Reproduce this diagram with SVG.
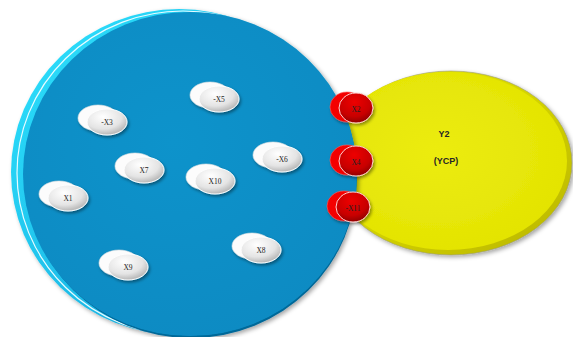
<svg xmlns="http://www.w3.org/2000/svg" xmlns:xlink="http://www.w3.org/1999/xlink" width="573" height="337" viewBox="0 0 573 337">
<style>
.lbl{font-family:"Liberation Serif","DejaVu Serif",serif;font-size:7.5px;fill:#222;text-anchor:middle;dominant-baseline:central}
.big{font-family:"Liberation Sans","DejaVu Sans",sans-serif;font-size:9px;font-weight:bold;fill:#262626;text-anchor:middle;dominant-baseline:central}
</style>
<defs>
<filter id="sh" x="-20%" y="-20%" width="140%" height="140%">
<feDropShadow dx="2" dy="2" stdDeviation="2" flood-color="#000" flood-opacity="0.35"/>
</filter>
<filter id="shs" x="-30%" y="-30%" width="160%" height="160%">
<feDropShadow dx="1.5" dy="2" stdDeviation="1.5" flood-color="#000" flood-opacity="0.4"/>
</filter>
<linearGradient id="rimB" x1="0" y1="0" x2="1" y2="1">
<stop offset="0" stop-color="#2ee4ff"/>
<stop offset="0.6" stop-color="#1cb8e6"/>
<stop offset="1" stop-color="#0a6e9e"/>
</linearGradient>
<radialGradient id="faceB" cx="0.45" cy="0.4" r="0.7">
<stop offset="0" stop-color="#0a93cb"/>
<stop offset="1" stop-color="#078ac2"/>
</radialGradient>
<linearGradient id="rimY" x1="0" y1="0" x2="1" y2="1">
<stop offset="0" stop-color="#eef000"/>
<stop offset="1" stop-color="#b8b400"/>
</linearGradient>
<radialGradient id="faceY" cx="0.45" cy="0.45" r="0.7">
<stop offset="0" stop-color="#ecec10"/>
<stop offset="1" stop-color="#e2e200"/>
</radialGradient>
<radialGradient id="gw" cx="0.4" cy="0.3" r="0.85">
<stop offset="0" stop-color="#ffffff"/>
<stop offset="0.55" stop-color="#e4e4e4"/>
<stop offset="1" stop-color="#9a9a9a"/>
</radialGradient>
<radialGradient id="gr" cx="0.45" cy="0.3" r="0.8">
<stop offset="0" stop-color="#ee0000"/>
<stop offset="0.6" stop-color="#c80000"/>
<stop offset="1" stop-color="#780000"/>
</radialGradient>
<g id="pill" filter="url(#shs)">
<ellipse cx="-5" cy="-2" rx="20" ry="13" fill="#fcfcfc" stroke="#e4e4e4" stroke-width="0.6"/>
<ellipse cx="4" cy="2" rx="20" ry="13" fill="url(#gw)" stroke="#ffffff" stroke-width="1"/>
</g>
<g id="red" filter="url(#shs)">
<ellipse cx="-9" cy="-1" rx="17" ry="15" fill="#f40000" stroke="#ff6060" stroke-width="0.6"/>
<ellipse cx="0" cy="0" rx="17" ry="15" fill="url(#gr)" stroke="#ffd0d0" stroke-width="1"/>
</g>
</defs>

<g id="Y2">
<g filter="url(#sh)">
<ellipse cx="451" cy="163" rx="121" ry="92" fill="url(#rimY)" stroke="#9a9a80" stroke-width="0.6"/>
<ellipse cx="448" cy="161" rx="119" ry="89" fill="url(#faceY)"/>
</g>
<text class="big" x="444" y="134">Y2</text>
<text class="big" x="446" y="161">(YCP)</text>
</g>

<g id="disc">
<g filter="url(#sh)">
<ellipse cx="179" cy="172" rx="168" ry="163" fill="url(#rimB)"/>
<ellipse cx="183" cy="173" rx="166" ry="162" fill="none" stroke="#e8fbff" stroke-width="1.2"/>
<ellipse cx="191" cy="176" rx="166" ry="162" fill="#056898"/>
<ellipse cx="190" cy="174" rx="167" ry="162" fill="url(#faceB)"/>
</g>
</g>

<g id="connectors"></g>

<g id="nX3" transform="translate(103,120)"><use xlink:href="#pill"/><text class="lbl" x="4" y="2">-X3</text></g>
<g id="nX5" transform="translate(215,97)"><use xlink:href="#pill"/><text class="lbl" x="4" y="2">-X5</text></g>
<g id="nX7" transform="translate(140,168)"><use xlink:href="#pill"/><text class="lbl" x="4" y="2">X7</text></g>
<g id="nX1" transform="translate(64,196)"><use xlink:href="#pill"/><text class="lbl" x="4" y="2">X1</text></g>
<g id="nX10" transform="translate(211,179)"><use xlink:href="#pill"/><text class="lbl" x="4" y="2">X10</text></g>
<g id="nX6" transform="translate(278,157)"><use xlink:href="#pill"/><text class="lbl" x="4" y="2">-X6</text></g>
<g id="nX9" transform="translate(124,265)"><use xlink:href="#pill"/><text class="lbl" x="4" y="2">X9</text></g>
<g id="nX8" transform="translate(257,248)"><use xlink:href="#pill"/><text class="lbl" x="4" y="2">X8</text></g>

<g id="nX2" transform="translate(356,108)"><use xlink:href="#red"/><text class="lbl" x="0" y="1">X2</text></g>
<g id="nX4" transform="translate(356,161)"><use xlink:href="#red"/><text class="lbl" x="0" y="1">X4</text></g>
<g id="nX11" transform="translate(353,207)"><use xlink:href="#red"/><text class="lbl" x="0" y="1">-X11</text></g>
</svg>
